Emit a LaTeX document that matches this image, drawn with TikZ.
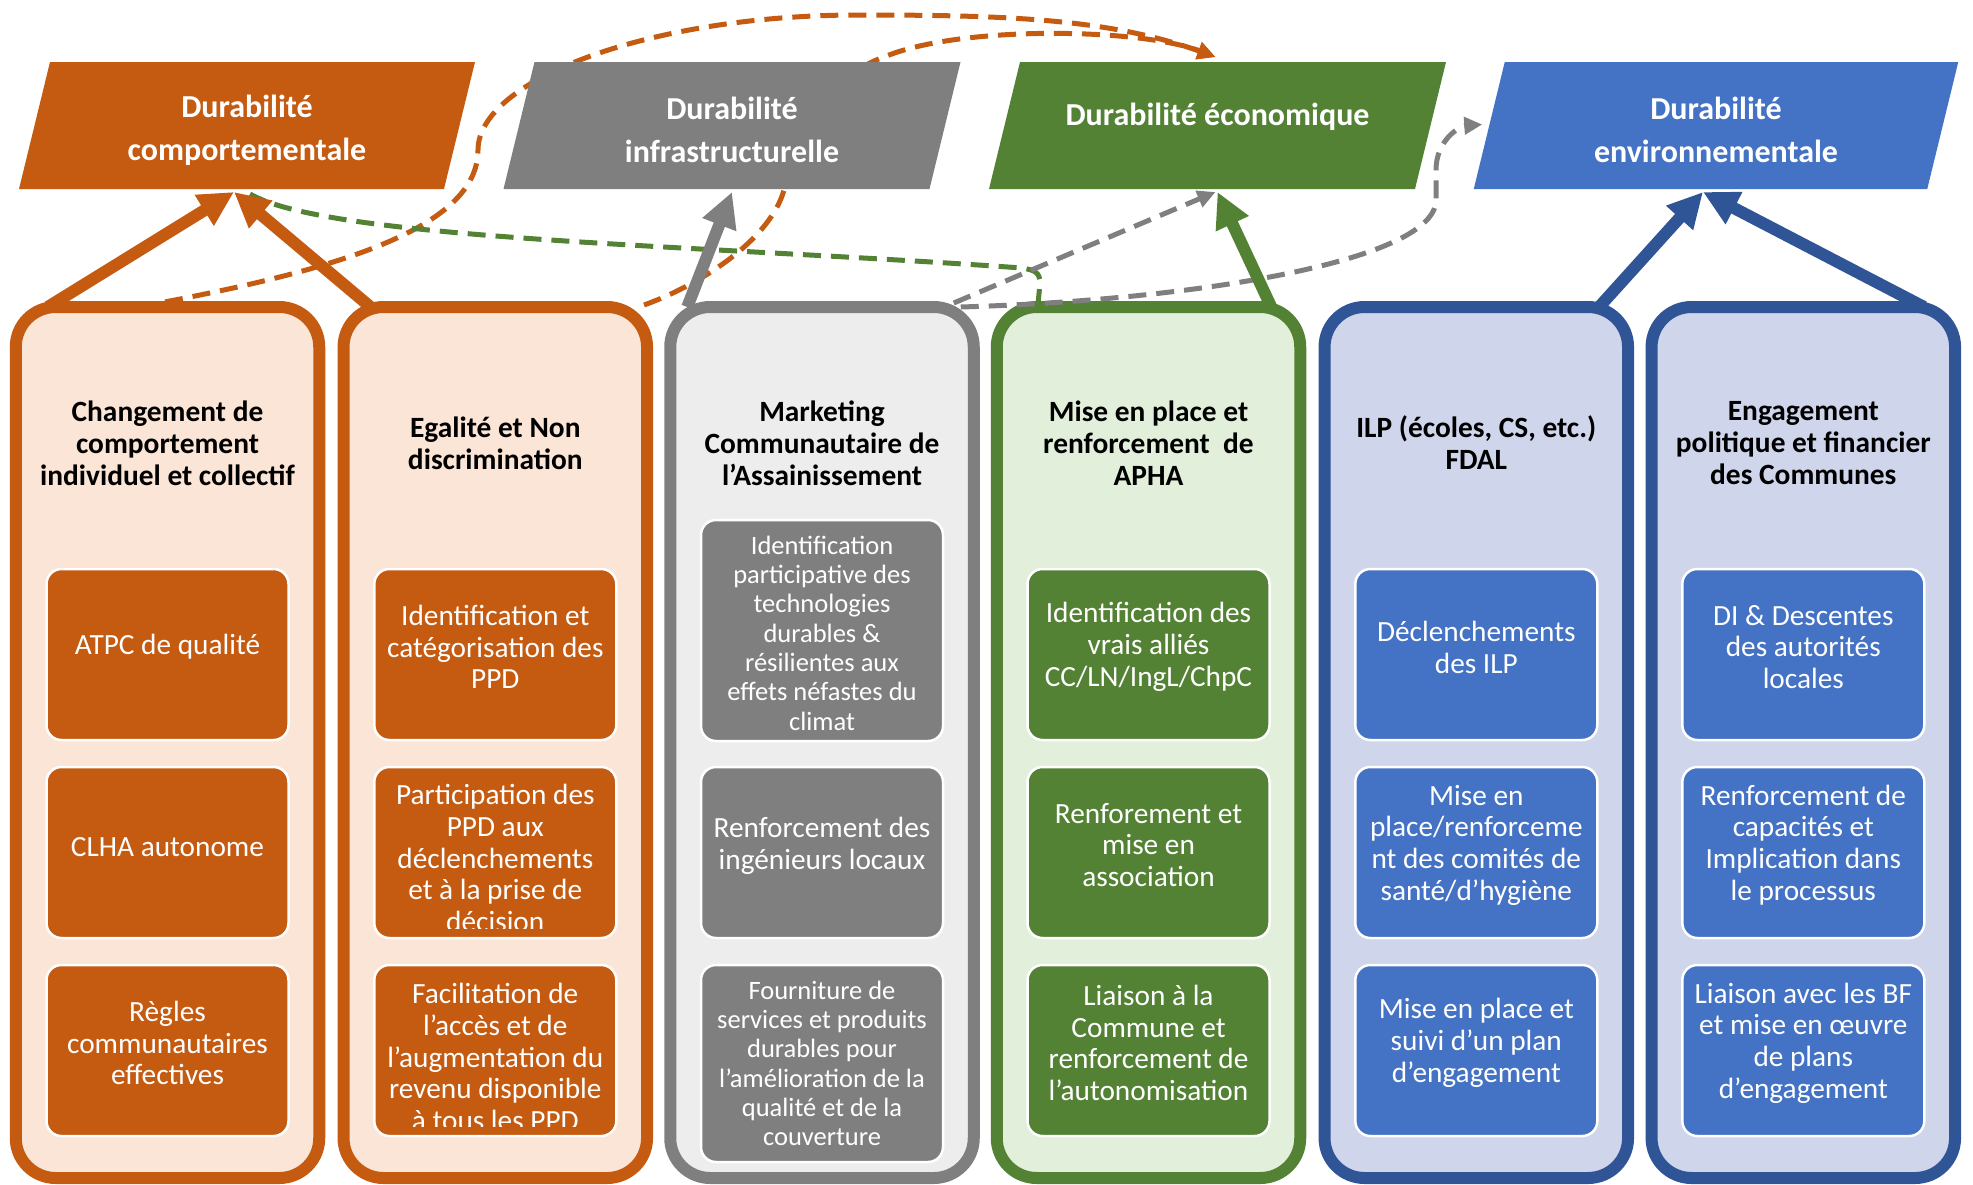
\documentclass[tikz,border=0pt]{standalone}
\usepackage{fontspec}
\setmainfont{Carlito}
\usetikzlibrary{arrows.meta,calc}
\definecolor{corange}{HTML}{C55A11}
\definecolor{clorange}{HTML}{FBE5D6}
\definecolor{cgray}{HTML}{7F7F7F}
\definecolor{clgray}{HTML}{EDEDED}
\definecolor{cgreen}{HTML}{548235}
\definecolor{clgreen}{HTML}{E2EFDA}
\definecolor{cblue}{HTML}{4472C4}
\definecolor{clblue}{HTML}{CFD5EA}
\definecolor{cdblue}{HTML}{2F5597}
\pgfdeclarelayer{cols}
\pgfdeclarelayer{dash}
\pgfdeclarelayer{head}
\pgfsetlayers{cols,dash,head,main}
\begin{document}
\begin{tikzpicture}[x=1pt,y=-1pt,
  col/.style={draw, line width=12pt, rounded corners=40pt, minimum width=303.5pt, minimum height=871pt, inner sep=0pt, outer sep=0pt},
  box/.style={draw=white, line width=2.5pt, rounded corners=15pt, minimum width=242pt, inner sep=0pt, outer sep=0pt},
  btext/.style={text=white, align=center, font=\fontsize{29.3}{31.7}\selectfont, inner sep=0pt},
  bsmall/.style={text=white, align=center, font=\fontsize{26.5}{29.3}\selectfont, inner sep=0pt},
  ttl/.style={text=black, align=center, font=\bfseries\fontsize{29.4}{32}\selectfont, inner sep=0pt},
  hdr/.style={minimum height=127pt, inner sep=0pt, outer sep=0pt},
  htext/.style={text=white, align=center, font=\bfseries\fontsize{32}{43}\selectfont, inner sep=0pt},
  bigarrow/.style={line width=12pt, -{Triangle[length=35pt,width=34pt]}},
  dashline/.style={line width=5pt, dash pattern=on 18pt off 10pt},
  dtip/.style={-{Triangle[length=18pt,width=17pt]}}
]
\useasboundingbox (0,0) rectangle (1973,1184);

% ---------------- columns ----------------
\begin{pgfonlayer}{cols}
\node[col, draw=corange, fill=clorange] (c1) at (167.5,742.5) {};
\node[col, draw=corange, fill=clorange] (c2) at (495.3,742.5) {};
\node[col, draw=cgray, fill=clgray] (c3) at (822,742.5) {};
\node[col, draw=cgreen, fill=clgreen] (c4) at (1148.5,742.5) {};
\node[col, draw=cdblue, fill=clblue] (c5) at (1476.3,742.5) {};
\node[col, draw=cdblue, fill=clblue] (c6) at (1803.3,742.5) {};

\node[ttl] (t1) at (167.5,443) {Changement de\\comportement\\individuel et collectif};
\node[ttl] (t2) at (495.3,443) {Egalité et Non\\discrimination};
\node[ttl] (t3) at (822,443) {Marketing\\Communautaire de\\l’Assainissement};
\node[ttl] (t4) at (1148.5,443) {Mise en place et\\renforcement~ de\\APHA};
\node[ttl] (t5) at (1476.3,443) {ILP (écoles, CS, etc.)\\FDAL};
\node[ttl] (t6) at (1803.3,443) {Engagement\\politique et financier\\des Communes};

% column 1
\node[box, fill=corange, minimum height=171pt] (b11) at (167.5,654.5) {};
\node[box, fill=corange, minimum height=171pt] (b12) at (167.5,852.5) {};
\node[box, fill=corange, minimum height=171pt] (b13) at (167.5,1050.5) {};
\node[btext] (x11) at (167.5,647) {ATPC de qualité};
\node[btext] (x12) at (167.5,847) {CLHA autonome};
\node[btext] (x13) at (167.5,1043) {Règles\\communautaires\\effectives};
% column 2
\node[box, fill=corange, minimum height=171pt] (b21) at (495.3,654.5) {};
\node[box, fill=corange, minimum height=171pt] (b22) at (495.3,852.5) {};
\node[box, fill=corange, minimum height=171pt] (b23) at (495.3,1050.5) {};
\node[btext] (x21) at (495.3,647) {Identification et\\catégorisation des\\PPD};
\begin{scope}
\clip[rounded corners=15pt] ($(b22.south west)+(0,-10)$) rectangle (b22.north east);
\node[btext] (x22) at (495.3,858) {Participation des\\PPD aux\\déclenchements\\et à la prise de\\décision};
\end{scope}
\begin{scope}
\clip[rounded corners=15pt] ($(b23.south west)+(0,-10)$) rectangle (b23.north east);
\node[btext] (x23) at (495.3,1057) {Facilitation de\\l’accès et de\\l’augmentation du\\revenu disponible\\à tous les PPD};
\end{scope}
% column 3
\node[box, fill=cgray, minimum height=221pt] (b31) at (822,630.5) {};
\node[box, fill=cgray, minimum height=171pt] (b32) at (822,852.5) {};
\node[box, fill=cgray, minimum height=197pt] (b33) at (822,1063.5) {};
\node[bsmall] (x31) at (822,633) {Identification\\participative des\\technologies\\durables \&\\résilientes aux\\effets néfastes du\\climat};
\node[btext] (x32) at (822,846) {Renforcement des\\ingénieurs locaux};
\node[bsmall] (x33) at (822,1063.5) {Fourniture de\\services et produits\\durables pour\\l’amélioration de la\\qualité et de la\\couverture};
% column 4
\node[box, fill=cgreen, minimum height=171pt] (b41) at (1148.5,654.5) {};
\node[box, fill=cgreen, minimum height=171pt] (b42) at (1148.5,852.5) {};
\node[box, fill=cgreen, minimum height=171pt] (b43) at (1148.5,1050.5) {};
\node[btext] (x41) at (1148.5,647) {Identification des\\vrais alliés\\CC/LN/IngL/ChpC};
\node[btext] (x42) at (1148.5,845) {Renforement et\\mise en\\association};
\node[btext] (x43) at (1148.5,1043) {Liaison à la\\Commune et\\renforcement de\\l’autonomisation};
% column 5
\node[box, fill=cblue, minimum height=171pt] (b51) at (1476.3,654.5) {};
\node[box, fill=cblue, minimum height=171pt] (b52) at (1476.3,852.5) {};
\node[box, fill=cblue, minimum height=171pt] (b53) at (1476.3,1050.5) {};
\node[btext] (x51) at (1476.3,647.5) {Déclenchements\\des ILP};
\node[btext] (x52) at (1476.3,845) {Mise en\\place/renforceme\\nt des comités de\\santé/d’hygiène};
\node[btext] (x53) at (1476.3,1043) {Mise en place et\\suivi d’un plan\\d’engagement};
% column 6
\node[box, fill=cblue, minimum height=171pt] (b61) at (1803.3,654.5) {};
\node[box, fill=cblue, minimum height=171pt] (b62) at (1803.3,852.5) {};
\node[box, fill=cblue, minimum height=171pt] (b63) at (1803.3,1050.5) {};
\node[btext] (x61) at (1803.3,647) {DI \& Descentes\\des autorités\\locales};
\node[btext] (x62) at (1803.3,845) {Renforcement de\\capacités et\\Implication dans\\le processus};
\node[btext] (x63) at (1803.3,1043) {Liaison avec les BF\\et mise en œuvre\\de plans\\d’engagement};
\end{pgfonlayer}

% ---------------- headers ----------------
\node[hdr, minimum width=425pt] (hO) at (247,125.5) {};
\node[hdr, minimum width=426pt] (hG) at (732,125.5) {};
\node[hdr, minimum width=426pt] (hE) at (1217.5,125.5) {};
\node[hdr, minimum width=453.5pt] (hB) at (1716,125.5) {};
\begin{pgfonlayer}{head}
\foreach \h/\c in {hO/corange, hG/cgray, hE/cgreen, hB/cblue}{
  \fill[\c] ($(\h.north west)+(15.5,0)$) -- ($(\h.north east)+(15.5,0)$) -- ($(\h.south east)+(-15.5,0)$) -- ($(\h.south west)+(-15.5,0)$) -- cycle;
}
\end{pgfonlayer}
\node[htext] (hOt) at ($(hO.center)+(0,5)$) {Durabilité\\comportementale};
\node[htext] (hGt) at ($(hG.center)+(0,4)$) {Durabilité\\infrastructurelle};
\node[htext] (hEt) at ($(hE.center)+(0,-9)$) {Durabilité économique};
\node[htext] (hBt) at ($(hB.center)+(0,4)$) {Durabilité\\environnementale};

% ---------------- dashed connectors ----------------
\begin{pgfonlayer}{dash}
\draw[dashline, corange, dtip] ($(c1.north)+(-30,0)$) .. controls (330,272) and (478,230) .. (478,150) .. controls (478,80) and (650,15) .. (858,15) .. controls (1000,15) and (1108,18) .. ($(hE.north)+(-2,-5)$);
\draw[dashline, corange, dtip] ($(c2.north east)+(-3,-2)$) .. controls (700,285) and (770,240) .. (784,190) .. controls (798,140) and (830,75) .. (884,57) .. controls (960,25) and (1140,28) .. ($(hE.north)+(-2,-5)$);
\draw[dashline, cgreen] ($(c4.north west)+(41,0)$) -- (1040,283) .. controls (1040,272) and (1034,270) .. (1022,268) .. controls (700,245) and (330,240) .. ($(hO.south)+(3,5)$);
\draw[dashline, cgray, dtip] ($(c3.north east)+(-20,-4)$) -- ($(hE.south)+(-2,3)$);
\draw[dashline, cgray, dtip] ($(c3.north east)+(-13,0)$) .. controls (1200,300) and (1436,260) .. (1436,200) -- (1436,170) .. controls (1436,140) and (1460,126) .. ($(hB.west)+(-7,-1)$);
\end{pgfonlayer}

% ---------------- solid arrows ----------------
\draw[bigarrow, corange] ($(c1.north west)+(32,0)$) -- ($(hO.south)+(-13,3)$);
\draw[bigarrow, corange] ($(c2.north west)+(27,0)$) -- ($(hO.south)+(-13,3)$);
\draw[bigarrow, cgray] ($(c3.north west)+(17,0)$) -- ($(hG.south)+(0,3)$);
\draw[bigarrow, cgreen] ($(c4.north east)+(-29,0)$) -- ($(hE.south)+(0,3)$);
\draw[bigarrow, cdblue] ($(c5.north east)+(-29,0)$) -- ($(hB.south)+(-13,3)$);
\draw[bigarrow, cdblue] ($(c6.north east)+(-31,0)$) -- ($(hB.south)+(-13,3)$);
\end{tikzpicture}
\end{document}
